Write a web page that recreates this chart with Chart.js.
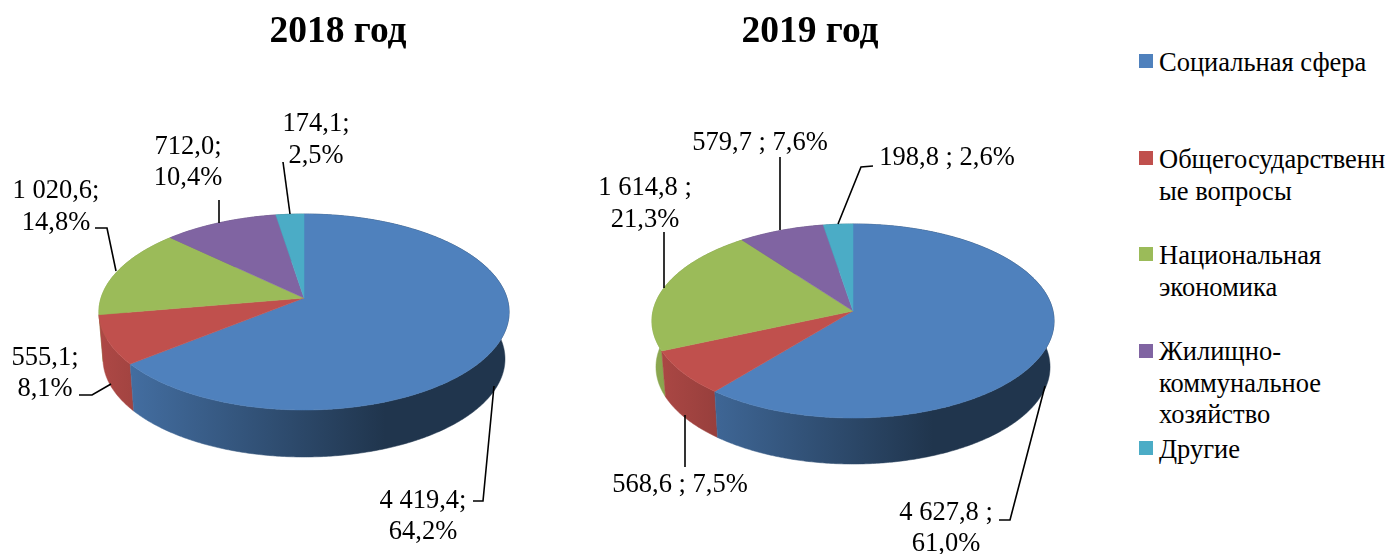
<!DOCTYPE html>
<html lang="ru">
<head>
<meta charset="utf-8">
<title>Расходы 2018–2019</title>
<script src="https://cdn.jsdelivr.net/npm/chart.js@4/dist/chart.umd.min.js"></script>
<style>
html,body{margin:0;padding:0;background:#fff;width:1391px;height:554px;overflow:hidden}
canvas{position:absolute;top:0}
#c2018{left:0}
#c2019{left:560px}
.sw{position:absolute;left:1139px;width:14px;height:14px}
.lg{position:absolute;left:1159px;font:26.5px/31.5px "Liberation Serif",serif;color:#000;white-space:nowrap}
</style>
</head>
<body>
<canvas id="c2018" width="676" height="554"></canvas>
<canvas id="c2019" width="500" height="554"></canvas>
<div id="legend"></div>
<script>
const categories = ["Социальная сфера","Общегосударственные вопросы","Национальная экономика","Жилищно-коммунальное хозяйство","Другие"];
const legendLines = [["Социальная сфера"],["Общегосударственн","ые вопросы"],["Национальная","экономика"],["Жилищно-","коммунальное","хозяйство"],["Другие"]];
const values2018 = [4419.4,555.1,1020.6,712.0,174.1];
const values2019 = [4627.8,568.6,1614.8,579.7,198.8];
const labels2018 = [["4 419,4;","64,2%"],["555,1;","8,1%"],["1 020,6;","14,8%"],["712,0;","10,4%"],["174,1;","2,5%"]];
const labels2019 = [["4 627,8 ;","61,0%"],["568,6 ; 7,5%"],["1 614,8 ;","21,3%"],["579,7 ; 7,6%"],["198,8 ; 2,6%"]];
const colors = ["#4f81bd","#c0504d","#9bbb59","#8064a2","#4bacc6"];

const legendTops = [47,144,240,336,434];
const swatchTops = [54,151,247,344,441];

const layout2018 = {left:0,cx:304,apexY:298,R:203,Ry:96,p:1/7,depth:47,
  text:[{x:423,y:[501,532]},{x:45,y:[358,389]},{x:56,y:[191,223]},{x:188,y:[147,178]},{x:316,y:[124,156]}],
  leaders:[[[473,501],[483,501],[494,386]],[[79,395],[92,395],[111,384]],[[95,228],[107,228],[116,271]],[[219,200],[219,223]],[[283,162],[290,214]]]};
const layout2019 = {left:560,cx:853,apexY:311,R:200,Ry:96,p:0.103,depth:46,
  text:[{x:946,y:[513,544]},{x:680,y:[485]},{x:645,y:[188,220]},{x:760,y:[143]},{x:947,y:[158]}],
  leaders:[[[999,520],[1010,520],[1045,386]],[[685,415],[685,467]],[[664,232],[664,288]],[[780,157],[780,230]],[[873,166],[861,167],[838,224]]]};
const bottomShrink = 0.98;

function shade(hex,f){
  const n=parseInt(hex.slice(1),16);
  return `rgb(${Math.round((n>>16&255)*f)},${Math.round((n>>8&255)*f)},${Math.round((n&255)*f)})`;
}
const pie3d = {
  id:'pie3d',
  beforeDatasetsDraw(chart,args,o){
    const ctx=chart.ctx, L=o.layout, arcs=chart.getDatasetMeta(0).data;
    const rim=(a,dy=0,s=1)=>{const u=Math.cos(a),v=Math.sin(a),w=1-L.p*v;
      return [L.cx+s*L.R*u/w, L.apexY+L.Ry*v/w+dy];};
    const samples=e=>{const n=Math.max(2,Math.ceil((e.endAngle-e.startAngle)/0.01)),r=[];
      for(let i=0;i<=n;i++) r.push(e.startAngle+(e.endAngle-e.startAngle)*i/n);return r;};
    ctx.save();
    ctx.translate(-L.left,0);
    const x0=L.cx-L.R, x1=L.cx+0.4*L.R;
    for(let i=arcs.length-1;i>=0;i--){
      const e=arcs[i];
      const g=ctx.createLinearGradient(x0,0,x1,0);
      g.addColorStop(0,shade(colors[i],0.9));
      g.addColorStop(1,shade(colors[i],0.41));
      const as=samples(e);
      ctx.beginPath();
      as.forEach((a,k)=>{const p=rim(a);k?ctx.lineTo(p[0],p[1]):ctx.moveTo(p[0],p[1]);});
      as.slice().reverse().forEach(a=>{const p=rim(a,L.depth,bottomShrink);ctx.lineTo(p[0],p[1]);});
      ctx.closePath();
      ctx.fillStyle=g;ctx.strokeStyle=g;ctx.lineWidth=0.5;ctx.fill();ctx.stroke();
    }
    arcs.forEach((e,i)=>{
      ctx.beginPath();
      ctx.moveTo(L.cx,L.apexY);
      samples(e).forEach(a=>{const p=rim(a);ctx.lineTo(p[0],p[1]);});
      ctx.closePath();
      ctx.fillStyle=colors[i];ctx.strokeStyle=colors[i];ctx.lineWidth=0.5;ctx.fill();ctx.stroke();
    });
    ctx.strokeStyle='#000';ctx.lineWidth=1.6;
    L.leaders.forEach(pts=>{
      ctx.beginPath();
      pts.forEach((p,k)=>k?ctx.lineTo(p[0],p[1]):ctx.moveTo(p[0],p[1]));
      ctx.stroke();
    });
    ctx.fillStyle='#000';ctx.font='26.5px "Liberation Serif", serif';
    ctx.textAlign='center';ctx.textBaseline='middle';
    o.labels.forEach((lines,i)=>{
      const t=L.text[i];
      lines.forEach((s,k)=>ctx.fillText(s,t.x,t.y[k]));
    });
    ctx.restore();
    return false;
  }
};
function makePie(id,year,values,labels,L){
  new Chart(document.getElementById(id),{
    type:'pie',
    data:{labels:categories,datasets:[{data:values,backgroundColor:colors}]},
    plugins:[pie3d],
    options:{
      responsive:false,animation:false,
      events:[],
      plugins:{
        legend:{display:false},tooltip:{enabled:false},
        title:{display:true,text:year,color:'#000',padding:{top:10,bottom:0},
          font:{family:'"Liberation Serif", serif',size:37.5,weight:'bold',lineHeight:1.2}},
        pie3d:{layout:L,labels:labels}
      }
    }
  });
}
makePie('c2018','2018 год',values2018,labels2018,layout2018);
makePie('c2019','2019 год',values2019,labels2019,layout2019);

const lg=document.getElementById('legend');
legendLines.forEach((lines,i)=>{
  const s=document.createElement('div');s.className='sw';s.style.top=swatchTops[i]+'px';s.style.background=colors[i];lg.appendChild(s);
  const t=document.createElement('div');t.className='lg';t.style.top=legendTops[i]+'px';t.innerHTML=lines.join('<br>');lg.appendChild(t);
});
</script>
</body>
</html>
